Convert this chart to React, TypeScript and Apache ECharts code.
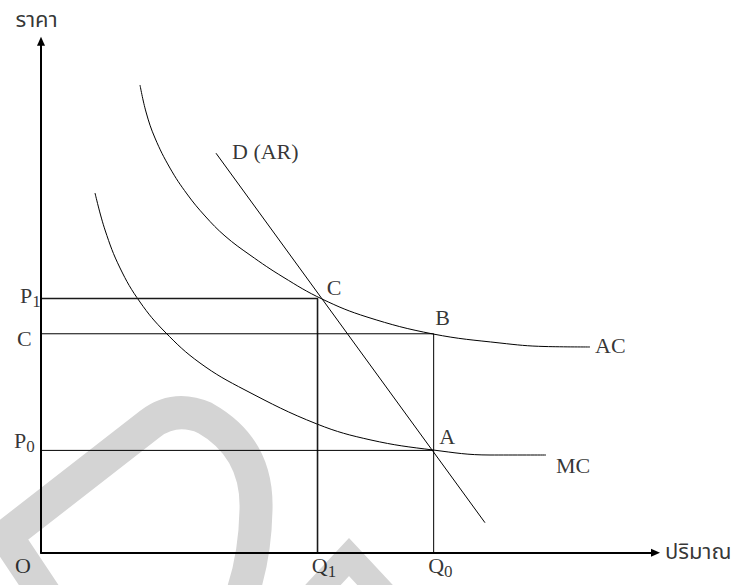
import React, { useEffect, useRef } from "react";
import * as echarts from "echarts";

// ---- axis extents (arbitrary units) ----
const X_MAX = 100;
const Y_MAX = 100;

// ---- key quantities and prices ----
const Q1 = 45;
const Q0 = 63.9;
const P1 = 49.7;
const PC = 42.8;
const P0 = 20;

// ---- AC curve ----
const acX = [16.11, 17.09, 18.55, 20.99, 23.76, 26.69, 29.94, 34.01, 39.38, 45.73, 53.05, 63.79, 74.69, 82.02, 89.34];
const acY = [91.44, 86.16, 81.07, 75.2, 70.13, 65.83, 61.92, 58.2, 53.9, 49.6, 46.08, 42.76, 41.0, 40.31, 40.22];

// ---- MC curve ----
const mcX = [8.79, 10.42, 12.86, 16.11, 20.18, 25.87, 33.2, 44.91, 53.7, 63.79, 73.07, 82.18];
const mcY = [70.32, 63.09, 55.66, 49.01, 43.15, 37.09, 31.81, 25.16, 22.03, 20.08, 19.1, 19.1];

// ---- demand D (AR) ----
const dX = [28.48, 72.25];
const dY = [78.1, 5.87];

// ---- texts ----
const Y_TITLE = "ราคา";
const X_TITLE = "ปริมาณ";
const CURVE_NAMES = ["AC", "MC", "D (AR)"];
const POINT_NAMES = ["C", "B", "A"];

const zip = (xs: number[], ys: number[]) => xs.map((x, i) => [x, ys[i]]);

const SERIF = "'Liberation Serif', 'Times New Roman', serif";
const THAI = "'Noto Sans Thai', 'Noto Serif Thai', Loma, Garuda, Norasi, 'Tlwg Typo', 'Noto Sans', 'DejaVu Sans', sans-serif";

// decorative watermark (not data)
const WM_D = "M 62 620 L 6 536 L 150 424 Q 175 405 205 418 Q 258 448 256 510 Q 255 560 240 600";
const WM_V = "M 295 615 L 349 557 L 403 615";
echarts.graphic.registerShape("wmD", echarts.graphic.extendPath(WM_D, {}));
echarts.graphic.registerShape("wmV", echarts.graphic.extendPath(WM_V, {}));

const rich = {
  m: { fontSize: 22, fontFamily: SERIF, lineHeight: 21, verticalAlign: "top", color: "#000" },
  s: { fontSize: 17, fontFamily: SERIF, lineHeight: 17, padding: [13, 0, 0, 0], color: "#000" },
  t: { fontSize: 22, fontFamily: THAI, lineHeight: 26, color: "#000" },
};

const sub = (base: string, s: string) => `{m|${base}}{s|${s}}`;
const plain = (t: string) => `{m|${t}}`;

const acLast = [acX[acX.length - 1], acY[acY.length - 1]];
const mcLast = [mcX[mcX.length - 1], mcY[mcY.length - 1]];

type Lbl = { at: number[]; text: string; offset: number[]; align?: string; va?: string };
const labels: Lbl[] = [
  { at: [0, P1], text: sub("P", "1"), offset: [-21, -14] },
  { at: [0, PC], text: plain("C"), offset: [-24, -6.7] },
  { at: [0, P0], text: sub("P", "0"), offset: [-27, -21] },
  { at: [0, 0], text: plain("O"), offset: [-26, 2] },
  { at: [Q1, 0], text: sub("Q", "1"), offset: [-5.7, 2] },
  { at: [Q0, 0], text: sub("Q", "0"), offset: [-5.5, 2] },
  { at: [Q1, P1], text: plain(POINT_NAMES[0]), offset: [9.3, -22] },
  { at: [Q0, PC], text: plain(POINT_NAMES[1]), offset: [1.5, -27.7] },
  { at: [Q0, P0], text: plain(POINT_NAMES[2]), offset: [5.5, -25] },
  { at: acLast, text: plain(CURVE_NAMES[0]), offset: [5, -12.7] },
  { at: mcLast, text: plain(CURVE_NAMES[1]), offset: [10, -0.7] },
  { at: [dX[0], dY[0]], text: plain(CURVE_NAMES[2]), offset: [16, -12.7] },
  { at: [0, Y_MAX], text: `{t|${Y_TITLE}}`, offset: [-4.5, -21], align: "center", va: "middle" },
  { at: [X_MAX, 0], text: `{t|${X_TITLE}}`, offset: [9.5, 0], align: "left", va: "middle" },
];

const axisCommon = {
  type: "value",
  min: 0,
  z: 5,
  axisLine: {
    show: true,
    onZero: true,
    symbol: ["none", "triangle"],
    symbolSize: [8, 9],
    lineStyle: { color: "#000", width: 2 },
  },
  axisTick: { show: false },
  axisLabel: { show: false },
  splitLine: { show: false },
};

const thin = { color: "#000", width: 1 };

const option = {
  animation: false,
  backgroundColor: "#fff",
  grid: { left: 41, right: 80.5, top: 41.2, bottom: 32.3 },
  xAxis: { ...axisCommon, max: X_MAX },
  yAxis: { ...axisCommon, max: Y_MAX },
  graphic: [
    { type: "wmD", z: -1, silent: true, style: { fill: "none", stroke: "#d4d4d4", lineWidth: 33, lineJoin: "miter" } },
    { type: "wmV", z: -1, silent: true, style: { fill: "none", stroke: "#d4d4d4", lineWidth: 26, lineJoin: "miter" } },
  ],
  series: [
    { type: "line", data: zip(acX, acY), smooth: 0.4, symbol: "none", lineStyle: thin, z: 3 },
    { type: "line", data: zip(mcX, mcY), smooth: 0.4, symbol: "none", lineStyle: thin, z: 3 },
    { type: "line", data: zip(dX, dY), symbol: "none", lineStyle: thin, z: 3 },
    {
      type: "line",
      data: [[0, P1], [Q1, P1], [Q1, 0]],
      symbol: "none",
      lineStyle: { color: "#1a1a1a", width: 1.6 },
      z: 3,
    },
    { type: "line", data: [[0, PC], [Q0, PC], [Q0, 0]], symbol: "none", lineStyle: thin, z: 3 },
    { type: "line", data: [[0, P0], [Q0, P0]], symbol: "none", lineStyle: thin, z: 3 },
    {
      type: "scatter",
      symbolSize: 1,
      itemStyle: { color: "rgba(0,0,0,0)" },
      silent: true,
      z: 6,
      data: labels.map((l) => ({
        value: l.at,
        label: {
          show: true,
          position: "inside",
          align: l.align || "left",
          verticalAlign: l.va || "top",
          offset: l.offset,
          formatter: l.text,
          rich,
        },
      })),
    },
  ],
};

export default function App() {
  const ref = useRef<HTMLDivElement>(null);
  useEffect(() => {
    const chart = echarts.init(ref.current!, null, { renderer: "svg" });
    chart.setOption(option as any);
    return () => chart.dispose();
  }, []);
  return (
    <div
      ref={ref}
      style={{ position: "absolute", left: 0, top: 0, width: 736, height: 585, background: "#fff" }}
    />
  );
}
